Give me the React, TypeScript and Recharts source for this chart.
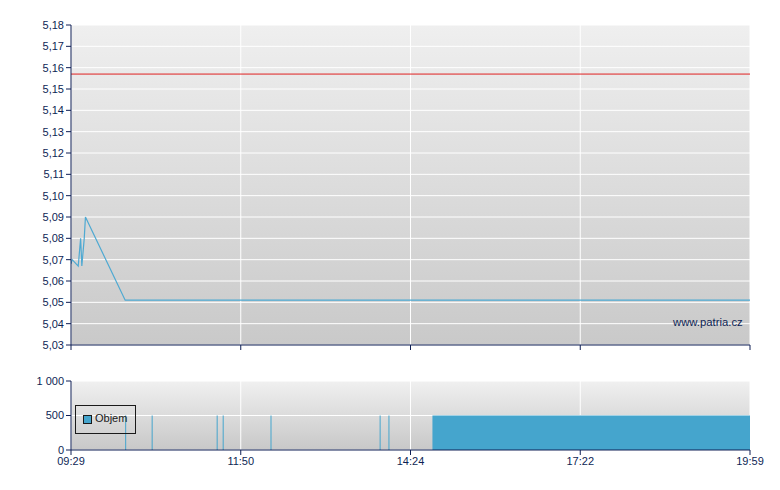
import React from 'react';
import {
  ComposedChart, Line, Bar, Area, XAxis, YAxis, CartesianGrid, ReferenceLine,
} from 'recharts';

// ---- data ----
const timeTicks = ['09:29', '11:50', '14:24', '17:22', '19:59'];
const priceTicks = [5.03, 5.04, 5.05, 5.06, 5.07, 5.08, 5.09, 5.1, 5.11, 5.12, 5.13, 5.14, 5.15, 5.16, 5.17, 5.18];
const volumeTicks = [0, 500, 1000];
const previousClose = 5.157;

const priceTimes = ['09:29', '09:30', '09:35', '09:37', '09:38', '09:40', '09:41', '10:14', '19:59'];
const priceValues = [5.068, 5.07, 5.067, 5.08, 5.067, 5.08, 5.09, 5.051, 5.051];

const spikeTimes = ['10:14', '10:36', '11:30', '11:35', '12:17', '13:56', '14:04'];
const spikeVolumes = [500, 500, 500, 500, 500, 500, 500];

const blockTimes = ['14:47', '19:59'];
const blockVolumes = [500, 500];

// ---- helpers ----
const toMin = (t: string) => {
  const [h, m] = t.split(':').map(Number);
  return h * 60 + m;
};
const tickMins = timeTicks.map(toMin);
// axis is evenly spaced between labelled times; position piecewise between them
const pos = (t: string) => {
  const m = toMin(t);
  for (let i = 0; i < tickMins.length - 1; i++) {
    if (m <= tickMins[i + 1]) return i + (m - tickMins[i]) / (tickMins[i + 1] - tickMins[i]);
  }
  return tickMins.length - 1;
};

const priceData = priceTimes.map((t, i) => ({ x: pos(t), price: priceValues[i] }));
const spikeData = spikeTimes.map((t, i) => ({ x: pos(t), vol: spikeVolumes[i] }));
const blockData = blockTimes.map((t, i) => ({ x: pos(t), block: blockVolumes[i] }));
const xTicks = timeTicks.map((_, i) => i);

const NAVY = '#0e1f55';
const BLUE = '#45a5cd';
const FONT = '"Liberation Sans", Arial, sans-serif';
const tickStyle = { fontFamily: FONT, fontSize: 11, fill: NAVY };

const fmtPrice = (v: number) => v.toFixed(2).replace('.', ',');
const fmtVol = (v: number) => String(v).replace(/\B(?=(\d{3})+(?!\d))/g, ' ');

export default function App() {
  return (
    <div style={{ position: 'absolute', left: 0, top: 0, width: 780, height: 490, background: '#fff' }}>
      <svg width={0} height={0} style={{ position: 'absolute' }}>
        <defs>
          <linearGradient id="bgPrice" x1="0" y1="0" x2="0" y2="1">
            <stop offset="0%" stopColor="#efefef" />
            <stop offset="100%" stopColor="#c9c9c9" />
          </linearGradient>
          <linearGradient id="bgVol" x1="0" y1="0" x2="0" y2="1">
            <stop offset="0%" stopColor="#f0f0f0" />
            <stop offset="100%" stopColor="#c8c8c8" />
          </linearGradient>
        </defs>
      </svg>

      <div style={{ position: 'absolute', left: 0, top: 0 }}>
        <ComposedChart width={780} height={360} data={priceData}
          margin={{ top: 25, right: 30, bottom: 0, left: 0 }}>
          <CartesianGrid fill="url(#bgPrice)" stroke="#ffffff" strokeWidth={1} />
          <XAxis dataKey="x" type="number" domain={[0, 4]} ticks={xTicks} height={15}
            tickFormatter={() => ''} axisLine={{ stroke: NAVY }} tickLine={{ stroke: NAVY }}
            tickSize={5} tick={tickStyle} allowDataOverflow />
          <YAxis type="number" domain={[5.03, 5.18]} ticks={priceTicks} width={71}
            tickFormatter={fmtPrice} axisLine={{ stroke: NAVY }} tickLine={{ stroke: NAVY }}
            tickSize={5} tick={tickStyle} interval={0} allowDataOverflow />
          <ReferenceLine y={previousClose} stroke="#e02020" strokeWidth={1} />
          <Line dataKey="price" type="linear" stroke="#4ea9d2" strokeWidth={1.2}
            dot={false} isAnimationActive={false} />
        </ComposedChart>
      </div>

      <div style={{ position: 'absolute', left: 673, top: 316, fontFamily: FONT, fontSize: 11.3, color: NAVY }}>
        www.patria.cz
      </div>

      <div style={{ position: 'absolute', left: 0, top: 360 }}>
        <ComposedChart width={780} height={130} data={spikeData}
          margin={{ top: 21, right: 30, bottom: 15, left: 0 }}>
          <CartesianGrid fill="url(#bgVol)" stroke="#ffffff" strokeWidth={1} />
          <XAxis dataKey="x" type="number" domain={[0, 4]} ticks={xTicks} height={25}
            tickFormatter={(i: number) => timeTicks[i] ?? ''} axisLine={{ stroke: NAVY }}
            tickLine={{ stroke: NAVY }} tickSize={5} tick={tickStyle} interval={0} allowDataOverflow />
          <YAxis type="number" domain={[0, 1000]} ticks={volumeTicks} width={71}
            tickFormatter={fmtVol} axisLine={{ stroke: NAVY }} tickLine={{ stroke: NAVY }}
            tickSize={5} tick={tickStyle} interval={0} allowDataOverflow />
          <Area data={blockData} dataKey="block" type="linear" stroke="none" fill={BLUE}
            fillOpacity={1} isAnimationActive={false} />
          <Bar dataKey="vol" fill={BLUE} barSize={1} minPointSize={0} isAnimationActive={false} />
        </ComposedChart>
      </div>

      <div style={{
        position: 'absolute', left: 75, top: 405, width: 59, height: 27,
        border: '1px solid #1a1a1a', boxSizing: 'content-box',
      }}>
        <div style={{
          position: 'absolute', left: 7, top: 9, width: 7, height: 7,
          background: BLUE, border: '1px solid #1a1a1a',
        }} />
        <div style={{
          position: 'absolute', left: 19, top: 6, fontFamily: FONT, fontSize: 11, color: '#1a1a1a',
        }}>Objem</div>
      </div>
    </div>
  );
}
